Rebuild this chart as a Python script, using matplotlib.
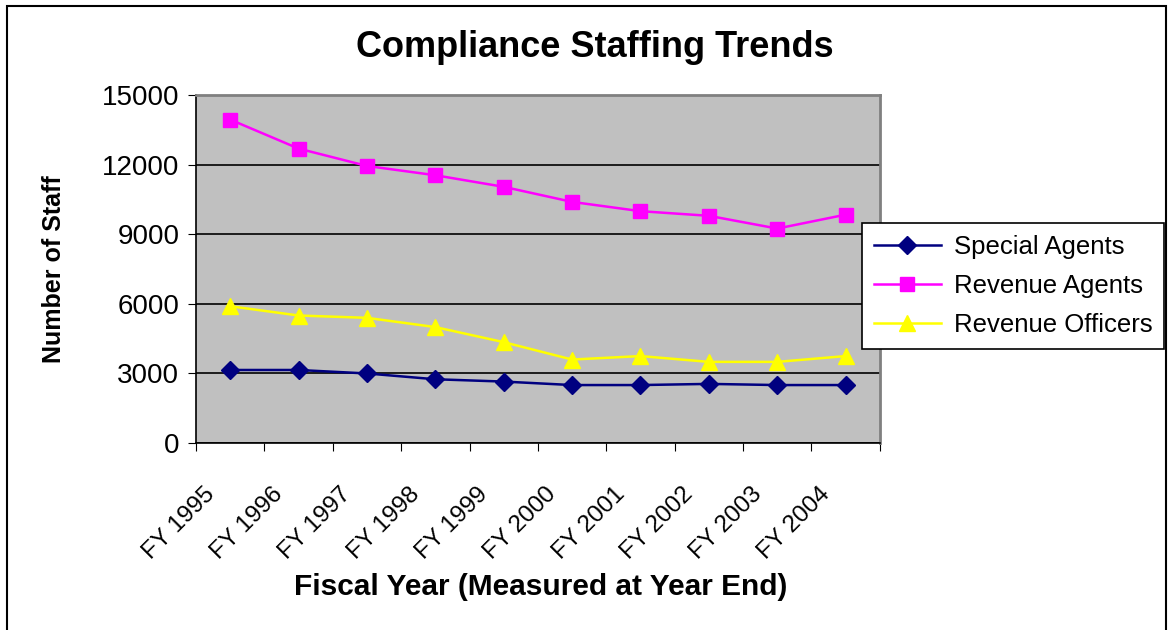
# Compliance staffing trends, FY 1995 - FY 2004
import numpy as np
import matplotlib
matplotlib.use("Agg")
import matplotlib.pyplot as plt
import matplotlib.transforms as mtransforms
from matplotlib.patches import Rectangle

plt.rcParams['font.family'] = ['Liberation Sans', 'DejaVu Sans']

years = ["FY 1995", "FY 1996", "FY 1997", "FY 1998", "FY 1999",
         "FY 2000", "FY 2001", "FY 2002", "FY 2003", "FY 2004"]
special_agents = [3150, 3150, 3000, 2750, 2650, 2500, 2500, 2550, 2500, 2500]
revenue_agents = [13950, 12700, 11950, 11550, 11050, 10400, 10000, 9800, 9250, 9850]
revenue_officers = [5900, 5500, 5400, 5000, 4350, 3600, 3750, 3500, 3500, 3750]

fig = plt.figure(figsize=(11.75, 6.3), dpi=100)
ax = fig.add_axes([0.1668, 0.2968, 0.582, 0.552])
ax.set_facecolor("#C0C0C0")

x = np.arange(len(years))
ax.plot(x, special_agents, color="#000080", marker="D", markersize=9, lw=1.8,
        label="Special Agents", zorder=3)
ax.plot(x, revenue_agents, color="#FF00FF", marker="s", markersize=10, lw=1.8,
        label="Revenue Agents", zorder=3)
ax.plot(x, revenue_officers, color="#FFFF00", marker="^", markersize=12, lw=1.8,
        label="Revenue Officers", zorder=3)

ax.set_xlim(-0.5, len(years) - 0.5)
ax.set_ylim(0, 15000)
ax.set_yticks(np.arange(0, 15001, 3000))
ax.yaxis.grid(True, color="black", lw=1.2)
ax.set_axisbelow(True)

# ticks between categories, labels at centres
ax.set_xticks(np.arange(-0.5, len(years), 1.0))
ax.set_xticklabels([])
ax.set_xticks(x, minor=True)
ax.set_xticklabels(years, minor=True, rotation=45, ha="right", va="center",
                   rotation_mode="anchor", fontsize=17.5)
ax.tick_params(axis="x", which="minor", length=0, pad=0)
ax.tick_params(axis="x", which="major", length=6, direction="out", color="black")
ax.tick_params(axis="y", length=6, direction="out", labelsize=20, pad=6)
offset = mtransforms.ScaledTranslation(-0.19, -0.48, fig.dpi_scale_trans)
for lab in ax.get_xticklabels(minor=True):
    lab.set_transform(lab.get_transform() + offset)

for s in ["top", "right"]:
    ax.spines[s].set_color("#808080")
    ax.spines[s].set_linewidth(2)
for s in ["left", "bottom"]:
    ax.spines[s].set_color("black")
    ax.spines[s].set_linewidth(1.2)

ax.set_ylabel("Number of Staff", fontsize=18, fontweight="bold", labelpad=26)
fig.text(0.460, 0.068, "Fiscal Year (Measured at Year End)", ha="center",
         va="center", fontsize=21.5, fontweight="bold")
fig.text(0.506, 0.925, "Compliance Staffing Trends", ha="center", va="center",
         fontsize=26, fontweight="bold")

leg = ax.legend(loc="upper left", bbox_to_anchor=(0.734, 0.646),
                bbox_transform=fig.transFigure, fontsize=18.5, frameon=True,
                fancybox=False, edgecolor="black", framealpha=1,
                handlelength=2.6, labelspacing=0.6, borderpad=0.45,
                handletextpad=0.5, borderaxespad=0)
leg.get_frame().set_linewidth(1.2)
leg.set_zorder(5)

fig.patches.append(Rectangle((0.006, -0.02), 0.986, 1.01, transform=fig.transFigure,
                             fill=False, edgecolor="black", lw=1.5))

fig.savefig("out.png", dpi=100)
